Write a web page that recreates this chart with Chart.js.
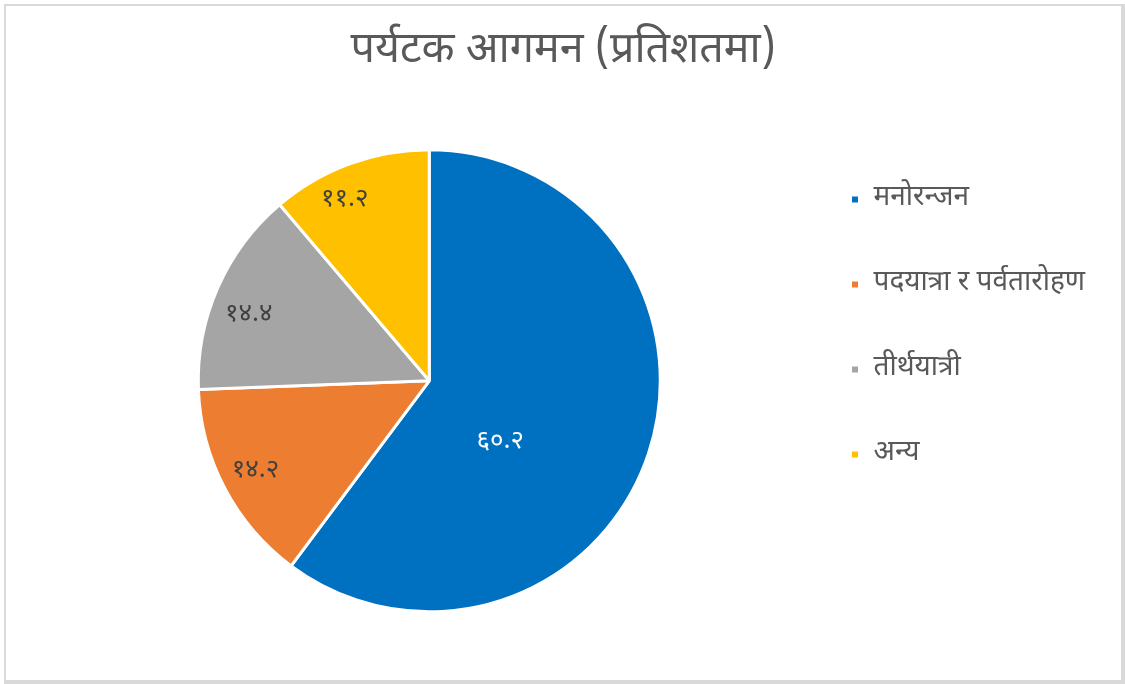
<!DOCTYPE html>
<html>
<head>
<meta charset="utf-8">
<script src="https://cdn.jsdelivr.net/npm/chart.js@4.4.1/dist/chart.umd.min.js"></script>
<style>
	html, body { margin: 0; padding: 0; background: #fff; }
	#frame {
		position: absolute; left: 4px; top: 4px;
		width: 1115px; height: 674px;
		border-top: 2px solid #d9d9d9; border-left: 2px solid #d9d9d9;
		border-right: 4px solid #d9d9d9; border-bottom: 4px solid #d9d9d9;
	}
	canvas { display: block; }
</style>
</head>
<body>
<div id="frame"><canvas id="chart" width="1115" height="674"></canvas></div>
<script>
/* global Chart */
const titleText = 'पर्यटक आगमन (प्रतिशतमा)';
const categories = ['मनोरन्जन', 'पदयात्रा र पर्वतारोहण', 'तीर्थयात्री', 'अन्य'];
const shares = [60.2, 14.2, 14.4, 11.2];
const sliceColors = ['#0070C0', '#ED7D31', '#A5A5A5', '#FFC000'];

const fontFamily = "'Noto Sans Devanagari', 'Noto Sans', sans-serif";
const devDigits = '०१२३४५६७८९';

// अंकलाई देवनागरीमा बदल्ने
const toDevanagari = (n) => n.toFixed(1).replace(/[0-9]/g, (d) => devDigits[d]);

// Excel जस्तै slice भित्र label लेख्ने plugin
const sliceLabels = {
	id: 'sliceLabels',
	afterDatasetsDraw(chart, args, opts) {
		const { ctx } = chart;
		const meta = chart.getDatasetMeta(0);
		ctx.save();
		ctx.font = `${opts.size}px ${fontFamily}`;
		ctx.textAlign = 'center';
		ctx.textBaseline = 'middle';
		meta.data.forEach((arc, i) => {
			const place = opts.place[i];
			const mid = (arc.startAngle + arc.endAngle) / 2 + place.shift * Math.PI / 180;
			const r = arc.outerRadius * place.frac;
			ctx.fillStyle = opts.colors[i];
			ctx.fillText(toDevanagari(shares[i]), arc.x + Math.cos(mid) * r, arc.y + Math.sin(mid) * r);
		});
		ctx.restore();
	},
};

const canvas = document.getElementById('chart');

const graph = new Chart(canvas, {
	type: 'pie',
	data: {
		labels: categories,
		datasets: [{
			data: shares,
			backgroundColor: sliceColors,
			borderColor: '#ffffff',
			borderWidth: 3,
			radius: 231,
		}],
	},
	options: {
		responsive: false,
		animation: false,
		layout: { padding: { left: 59, right: 26, top: 0, bottom: 0 } },
		plugins: {
			title: {
				display: true,
				// पछाडिको खाली ठाउँले शीर्षकलाई अलि बायाँ सार्छ
				text: titleText + '\u00A0\u00A0\u00A0',
				color: '#595959',
				font: { family: fontFamily, size: 43, weight: 'normal' },
				padding: { top: 22, bottom: 2 },
			},
			legend: {
				position: 'right',
				align: 'start',
				title: { display: true, text: ' ', padding: { top: 0, bottom: 108 } },
				labels: {
					color: '#595959',
					font: { family: fontFamily, size: 28 },
					boxWidth: 9,
					boxHeight: 9,
					padding: 57,
				},
			},
			tooltip: { enabled: false },
			sliceLabels: {
				size: 26,
				colors: ['#ffffff', '#404040', '#404040', '#404040'],
				place: [
					{ frac: 0.41, shift: 23 },
					{ frac: 0.85, shift: 0 },
					{ frac: 0.83, shift: -4 },
					{ frac: 0.86, shift: -5 },
				],
			},
		},
	},
	plugins: [sliceLabels],
});
</script>
</body>
</html>
